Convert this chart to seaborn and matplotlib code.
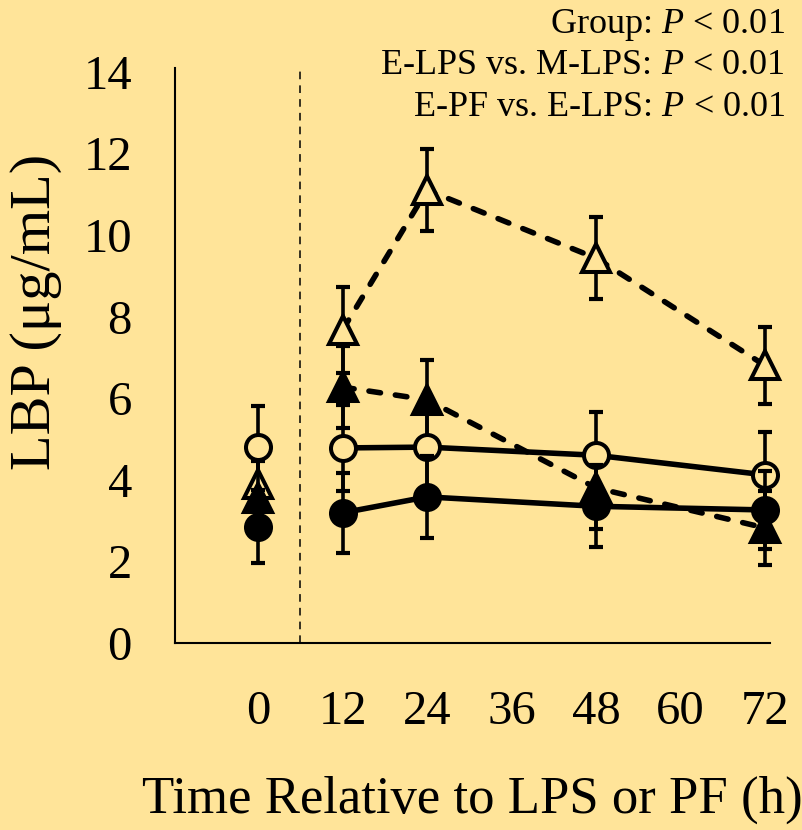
import matplotlib
matplotlib.use("Agg")
import matplotlib.pyplot as plt
import seaborn as sns
import pandas as pd

# time points (h) and group means / SE
times = [0, 12, 24, 48, 72]
e_pf_mean = [4.8, 4.78, 4.8, 4.6, 4.12]
e_pf_se = [1.0, 1.05, 1.0, 1.05, 1.05]
m_pf_mean = [2.85, 3.19, 3.58, 3.35, 3.26]
m_pf_se = [0.9, 0.98, 1.0, 1.0, 0.95]
e_lps_mean = [3.9, 7.67, 11.1, 9.43, 6.8]
e_lps_se = [0.9, 1.05, 1.0, 1.0, 0.95]
m_lps_mean = [3.55, 6.27, 5.96, 3.8, 2.82]
m_lps_se = [0.9, 1.0, 0.98, 1.0, 0.9]

xticks = [0, 12, 24, 36, 48, 60, 72]
yticks = [0, 2, 4, 6, 8, 10, 12, 14]
notes = ["Group: $P$ < 0.01",
         "E-LPS vs. M-LPS: $P$ < 0.01",
         "E-PF vs. E-LPS: $P$ < 0.01"]

bg = "#FFE499"
sns.set_style("white")
plt.rcParams["font.family"] = ["Liberation Serif", "DejaVu Serif"]
plt.rcParams["mathtext.fontset"] = "custom"
plt.rcParams["mathtext.rm"] = "Liberation Serif"
plt.rcParams["mathtext.it"] = "Liberation Serif:italic"
plt.rcParams["text.color"] = "black"
plt.rcParams["xtick.color"] = "black"
plt.rcParams["ytick.color"] = "black"
plt.rcParams["axes.labelcolor"] = "black"

rows = []
for name, means, ses in [("E-LPS", e_lps_mean, e_lps_se), ("M-LPS", m_lps_mean, m_lps_se),
                         ("E-PF", e_pf_mean, e_pf_se), ("M-PF", m_pf_mean, m_pf_se)]:
    for t, m, s in zip(times, means, ses):
        rows.append({"group": name, "time": t, "LBP": m, "se": s})
df = pd.DataFrame(rows)

styles = {
    "E-LPS": dict(marker="^", mfc=bg, dashed=True, ms=20),
    "M-LPS": dict(marker="^", mfc="black", dashed=True, ms=20),
    "E-PF": dict(marker="o", mfc=bg, dashed=False, ms=18),
    "M-PF": dict(marker="o", mfc="black", dashed=False, ms=18),
}

fig = plt.figure(figsize=(8.02, 8.30), dpi=100)
fig.patch.set_facecolor(bg)
ax = fig.add_axes([175 / 802, 187 / 830, 595 / 802, 575 / 830])
ax.set_facecolor(bg)

ax.axvline(6, color="black", lw=1.1, ls=(0, (5, 4)), zorder=1)

order = ["E-LPS", "E-PF", "M-LPS", "M-PF"]
for i, g in enumerate(order):
    st = styles[g]
    sub = df[df["group"] == g]
    eb = ax.errorbar(sub["time"], sub["LBP"], yerr=sub["se"], fmt="none", ecolor="black",
                     elinewidth=2.6, capsize=5, capthick=3, zorder=2 + i)
    for art in eb.lines[1] + eb.lines[2]:
        art.set_clip_on(False)
    post = sub[sub["time"] > 0]
    sns.lineplot(data=post, x="time", y="LBP", ax=ax, color="black", lw=4,
                 dashes=False, zorder=3 + i, legend=False, solid_capstyle="round",
                 **({"linestyle": (0, (2.1, 2.7))} if st["dashed"] else {}))
    ax.lines[-1].set_clip_on(False)
    if st["dashed"]:
        ax.lines[-1].set_dash_capstyle("round")
    ax.plot(sub["time"], sub["LBP"], ls="none", marker=st["marker"], ms=st["ms"],
            mfc=st["mfc"], mec="black", mew=2.9, zorder=4 + i, clip_on=False)

ax.set_xlim(-11.8, 72.7)
ax.set_ylim(0, 14.09)
ax.set_xticks(xticks)
ax.set_yticks(yticks)
ax.tick_params(axis="x", length=0, pad=34, labelsize=35)
ax.tick_params(axis="y", length=0, pad=31, labelsize=35)
for sp in ["top", "right"]:
    ax.spines[sp].set_visible(False)
for sp in ["left", "bottom"]:
    ax.spines[sp].set_color("black")
    ax.spines[sp].set_linewidth(1.5)

ax.set_xlabel("Time Relative to LPS or PF (h)", fontsize=38, labelpad=30)
ax.set_ylabel("LBP (μg/mL)", fontsize=42)
ax.yaxis.set_label_coords((62 - 175) / 595, (643 - 312) / 575)

for k, txt in enumerate(notes):
    fig.text(785 / 802, 1 - (25 + 41 * k) / 830, txt, ha="right", va="center", fontsize=26)

fig.savefig("out.png", dpi=100, facecolor=bg)
